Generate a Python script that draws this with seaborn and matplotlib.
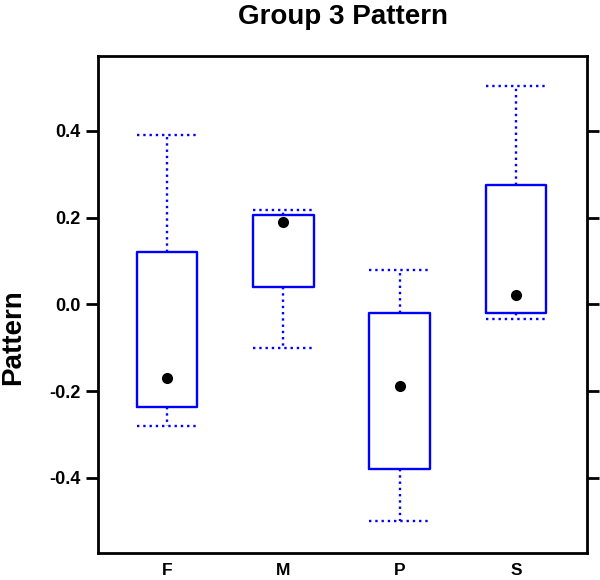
import numpy as np
import pandas as pd
import matplotlib
matplotlib.use("Agg")
import matplotlib.pyplot as plt
import seaborn as sns

# ------------------------------------------------------------
# Data (five-number summaries)
# ------------------------------------------------------------
groups = ["F", "M", "P", "S"]
whisker_low = [-0.280, -0.100, -0.500, -0.034]
box_low = [-0.236, 0.041, -0.380, -0.020]
medians = [-0.170, 0.190, -0.188, 0.022]
box_high = [0.120, 0.207, -0.020, 0.276]
whisker_high = [0.390, 0.218, 0.080, 0.503]

BLUE = "#0000FF"

# five values per group -> quartiles land exactly on the box edges
df = pd.DataFrame({
    "Group": np.repeat(groups, 5),
    "Pattern": np.column_stack(
        [whisker_low, box_low, medians, box_high, whisker_high]
    ).ravel(),
})

# ------------------------------------------------------------
# Style
# ------------------------------------------------------------
sns.set_style("white")
plt.rcParams["font.family"] = ["Liberation Sans", "DejaVu Sans"]
plt.rcParams["font.weight"] = "bold"
plt.rcParams["text.color"] = "black"
plt.rcParams["axes.labelcolor"] = "black"
plt.rcParams["xtick.color"] = "black"
plt.rcParams["ytick.color"] = "black"

fig = plt.figure(figsize=(6, 5.8), dpi=100)
ax = fig.add_axes([0.1633, 0.0466, 0.815, 0.857])

sns.boxplot(
    data=df,
    x="Group",
    y="Pattern",
    order=groups,
    whis=(0, 100),
    width=0.52,
    fill=False,
    color=BLUE,
    linewidth=1.7,
    showfliers=False,
    boxprops={"color": BLUE, "linewidth": 1.7},
    whiskerprops={"color": BLUE, "linestyle": ":", "linewidth": 1.7},
    capprops={"color": BLUE, "linestyle": ":", "linewidth": 1.7},
    medianprops={"visible": False},
    capwidths=0.52,
    ax=ax,
)

# median shown as a filled dot
sns.stripplot(
    x=groups,
    y=medians,
    order=groups,
    jitter=False,
    color="black",
    size=8,
    linewidth=0,
    ax=ax,
)

ax.set_xlim(-0.593, 3.61)
ax.set_ylim(-0.573, 0.573)
ax.set_yticks([-0.4, -0.2, 0.0, 0.2, 0.4])
ax.set_yticklabels(["-0.4", "-0.2", "0.0", "0.2", "0.4"])

for side in ["left", "right", "top", "bottom"]:
    ax.spines[side].set_visible(True)
    ax.spines[side].set_color("black")
    ax.spines[side].set_linewidth(2)

ax.tick_params(axis="y", left=True, right=True, direction="out",
               length=8.5, width=2, labelsize=13, pad=4, colors="black")
ax.tick_params(axis="x", bottom=False, length=0, labelsize=12.5, pad=7, colors="black")

ax.set_xlabel("")
ax.set_ylabel("Pattern", fontsize=20, fontweight="bold", color="black")
ax.yaxis.set_label_coords(-0.146, 0.434)

fig.text(0.571, 0.971, "Group 3 Pattern", fontsize=20, fontweight="bold",
         ha="center", va="center", color="black")

plt.savefig("out.png", dpi=100)
